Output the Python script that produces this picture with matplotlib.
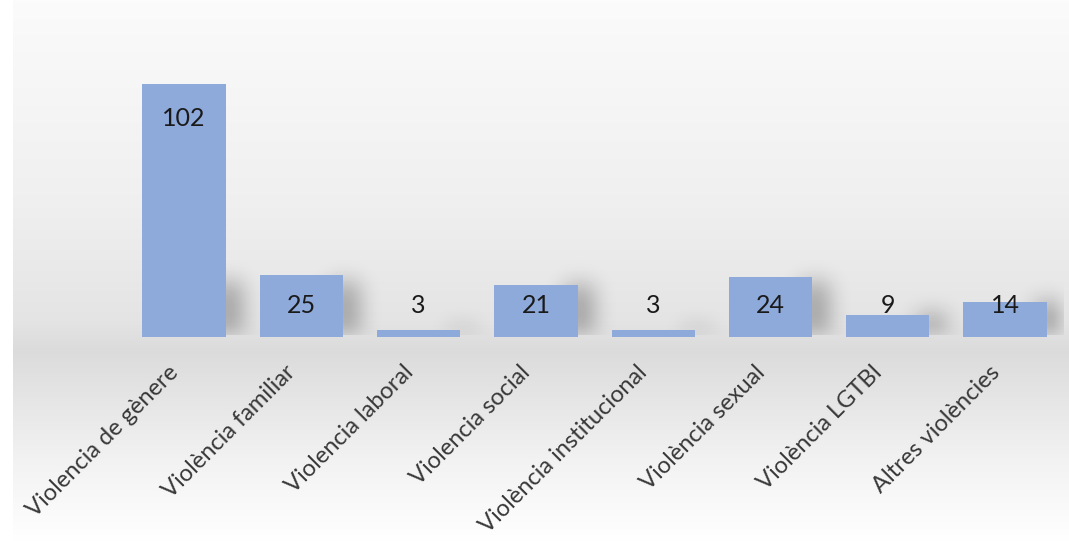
import numpy as np
import matplotlib
matplotlib.use("Agg")
import matplotlib.pyplot as plt
from matplotlib import transforms

categories = ["Violencia de gènere", "Violència familiar", "Violencia laboral",
              "Violencia social", "Violència institucional", "Violència sexual",
              "Violència LGTBI", "Altres violències"]
values = [102, 25, 3, 21, 3, 24, 9, 14]

W, H = 1069, 541
fig = plt.figure(figsize=(W / 100, H / 100), dpi=100)

# background gradient (figure level)
bg = fig.add_axes([0, 0, 1, 1], zorder=-10)
ys = np.arange(H)
prof = np.interp(ys, [0, 40, 200, 320, 350, 380, 460, 541],
                 [0.985, 0.975, 0.94, 0.895, 0.86, 0.885, 0.95, 1.0])
img = np.repeat(prof[:, None], W, axis=1)
img[:, :13] = 1.0
bg.imshow(np.dstack([img] * 3), aspect="auto", extent=[0, W, H, 0])
bg.axis("off")

# axes geometry (pixels)
step = 117.3
x0 = 184 - step / 2
x1 = x0 + step * len(values)
ybot = 337
ppu = 2.48
ymax = 120
ytop = ybot - ymax * ppu
ax = fig.add_axes([x0 / W, (H - ybot) / H, (x1 - x0) / W, (ybot - ytop) / H])
ax.patch.set_alpha(0)
n = len(values)
ax.set_xlim(-0.5, n - 0.5)
ax.set_ylim(0, ymax)
for s in ax.spines.values():
    s.set_visible(False)
ax.set_yticks([])

bw = 0.71
# soft shadow
nx, ny = int(x1 - x0), int(ybot - ytop)
gx = np.linspace(-0.5, n - 0.5, nx)
gy = np.linspace(0, ymax, ny)
GX, GY = np.meshgrid(gx, gy)
mask = np.zeros_like(GX)
for i, v in enumerate(values):
    h = min(v, 22)
    m = (GX > i + bw / 2 - 0.1) & (GX < i + bw / 2 + 0.14) & (GY < h) & (GY > 0)
    mask[m] = 1.0
k = 21
ker = np.ones(k) / k
for _ in range(3):
    mask = np.apply_along_axis(lambda r: np.convolve(r, ker, mode="same"), 1, mask)
    mask = np.apply_along_axis(lambda c: np.convolve(c, ker, mode="same"), 0, mask)
mask[GY < 0.5] = 0
shadow = np.zeros((ny, nx, 4))
shadow[..., 3] = mask * 0.3
ax.imshow(shadow, extent=[-0.5, n - 0.5, 0, ymax], origin="lower",
          aspect="auto", zorder=1)

ax.bar(range(n), values, width=bw, color="#8eaadb", zorder=2)

for i, v in enumerate(values):
    ax.text(i, max(v - 13.7, 12.9), str(v), ha="center", va="center",
            fontsize=18, color="#1a1a1a", family="Lato", zorder=3)

ax.set_xticks(range(n))
ax.set_xticklabels(categories, rotation=45, ha="right", va="center",
                   rotation_mode="anchor", fontsize=17, color="#383838",
                   family="Lato")
ax.tick_params(axis="x", length=0, pad=0)
off = transforms.ScaledTranslation(-9 / 100, -32 / 100, fig.dpi_scale_trans)
for lbl in ax.get_xticklabels():
    lbl.set_transform(lbl.get_transform() + off)

fig.savefig("out.png", dpi=100)
